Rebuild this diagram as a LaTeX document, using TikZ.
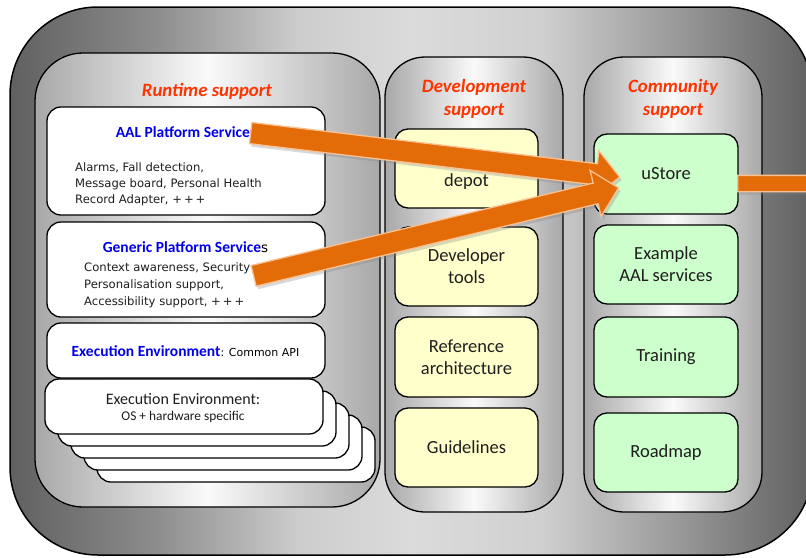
\documentclass[tikz,border=0pt]{standalone}
\usepackage{fontspec}
\setmainfont{Carlito}
\newfontfamily\tahfont{DejaVu Sans}
\usetikzlibrary{shapes.arrows,shadows,calc}
\definecolor{ttlred}{RGB}{255,51,0}
\definecolor{aalblue}{RGB}{0,0,235}
\definecolor{yelfill}{RGB}{255,255,204}
\definecolor{grnfill}{RGB}{204,255,204}
\definecolor{arrfill}{RGB}{227,108,9}
\definecolor{arrline}{RGB}{250,192,144}
\definecolor{og1}{RGB}{96,96,96}
\definecolor{og2}{RGB}{140,140,140}
\definecolor{og3}{RGB}{205,205,205}
\definecolor{og4}{RGB}{219,219,219}
\definecolor{og5}{RGB}{208,208,208}
\definecolor{og6}{RGB}{150,150,150}
\definecolor{paneledge}{RGB}{168,168,168}
\definecolor{panelmid}{RGB}{250,250,250}
\definecolor{txt}{RGB}{30,30,30}
\pgfdeclarehorizontalshading{outersh}{100bp}{color(0bp)=(og1); color(25bp)=(og1); color(34bp)=(og2); color(43bp)=(og3); color(50bp)=(og4); color(58bp)=(og5); color(67bp)=(og6); color(75bp)=(og1); color(100bp)=(og1)}
\tikzset{
  panelbox/.style={draw=black, line width=1.3, left color=paneledge, right color=paneledge, middle color=panelmid},
  wbox/.style={draw=black, line width=1.3, rounded corners=14, fill=white, minimum width=278},
  ybox/.style={draw=black, line width=1.3, rounded corners=13, fill=yelfill, minimum width=143, minimum height=79, text=txt, align=center, font=\fontsize{18.5}{22}\selectfont},
  gbox/.style={draw=black, line width=1.3, rounded corners=13, fill=grnfill, minimum width=144, minimum height=80, text=txt, align=center, font=\fontsize{18.5}{22}\selectfont},
  ttl/.style={text=ttlred, font=\fontsize{18.8}{23}\selectfont\bfseries\itshape, align=center},
  bluet/.style={text=aalblue, font=\fontsize{15.5}{18}\selectfont\bfseries},
  bodytxt/.style={font=\tahfont\fontsize{11.6}{16}\selectfont, align=left, anchor=west, inner sep=0pt, text=txt},
  fatarr/.style={single arrow, draw=arrline, fill=arrfill, line width=1.3, inner xsep=0pt, drop shadow={shadow xshift=2pt, shadow yshift=-3pt, opacity=0.3}}
}
\newcommand\fatarrow[4]{\path let \p1=(#1), \p2=(#2), \n1={veclen(\x2-\x1,\y2-\y1)} in (\p1) -- node[fatarr, pos=0, sloped, anchor=tail, minimum height=\n1, inner ysep=#3, single arrow head extend=#4] {} (\p2);}
\begin{document}
\begin{tikzpicture}[x=1pt,y=-1pt]
\useasboundingbox (0,0) rectangle (806,557);
\clip (0,0) rectangle (806,557);
\fill[white] (0,0) rectangle (806,557);
% outer frame
\path[draw=black, line width=1.5, rounded corners=88, shading=outersh] (10,7) rectangle (813,555);
% panels
\path[panelbox, rounded corners=48] (35,53) rectangle (380,507);
\path[panelbox, rounded corners=40] (385,57) rectangle (563,512);
\path[panelbox, rounded corners=40] (584,57) rectangle (762,512);
% titles
\node[ttl] (rtitle) at (207,91) {Runtime support};
\node[ttl] (dtitle) at (474,99) {Development\\support};
\node[ttl] (ctitle) at (673,99) {Community\\support};
% runtime boxes
\node[wbox, minimum height=108] (aal) at (186,161) {};
\node[bluet] (aalt) at (186,132) {AAL Platform Services};
\node[bodytxt] (aalb) at (75,184.5) {Alarms, Fall detection,\\Message board, Personal Health\\Record Adapter, +\,+\,+};
\node[wbox, minimum height=95] (gen) at (186,269.5) {};
\node (gent) at (185.5,247) {{\color{aalblue}\fontsize{15.5}{18}\selectfont\bfseries Generic Platform Service}{\tahfont\fontsize{13.5}{16}\selectfont s}};
\node[bodytxt, font=\tahfont\fontsize{11.6}{17}\selectfont] (genb) at (84,285.5) {Context awareness, Security\\Personalisation support,\\Accessibility support, +\,+\,+};
\node[wbox, minimum height=55] (api) at (186,350.5) {};
\node (apit) at (185.5,351) {{\color{aalblue}\fontsize{15.5}{18}\selectfont\bfseries Execution Environment}{\tahfont\fontsize{11}{13}\selectfont : Common API}};
\foreach \i in {4,3,2,1} {
  \node[wbox, minimum height=55] (stk\i) at ({184+13*\i},{406.5+12*\i}) {};
}
\node[wbox, minimum height=55] (exe) at (184,406.5) {};
\node[text=txt, font=\fontsize{16}{18}\selectfont] (exet1) at (183,399) {Execution Environment:};
\node[text=txt, font=\fontsize{13.4}{15}\selectfont] (exet2) at (183,417) {OS + hardware specific};
% development boxes
\node[ybox] (depotbox) at (466.5,168.5) {};
\node[text=txt, font=\fontsize{18.5}{22}\selectfont] (depot) at (466.5,182) {depot};
\node[ybox] (devtools) at (466.5,266.5) {Developer\\tools};
\node[ybox, minimum height=80] (refarch) at (466.5,357) {Reference\\architecture};
\node[ybox] (guide) at (466.5,447.5) {Guidelines};
% community boxes
\node[gbox] (ustore) at (666,174) {uStore};
\node[gbox, minimum height=79] (example) at (666,264.5) {Example\\AAL services};
\node[gbox] (training) at (666,357) {Training};
\node[gbox, minimum height=79] (roadmap) at (666,452.5) {Roadmap};
% arrows
\coordinate (a1s) at (250,133);
\coordinate (a1e) at (619,177);
\coordinate (a2s) at (253,276);
\coordinate (a2e) at (618,188);
\coordinate (a3s) at (737,183.5);
\coordinate (a3e) at (880,183.5);
\fatarrow{a1s}{a1e}{10pt}{13pt}
\fatarrow{a2s}{a2e}{10pt}{13pt}
\fatarrow{a3s}{a3e}{7.5pt}{12pt}
\end{tikzpicture}
\end{document}
